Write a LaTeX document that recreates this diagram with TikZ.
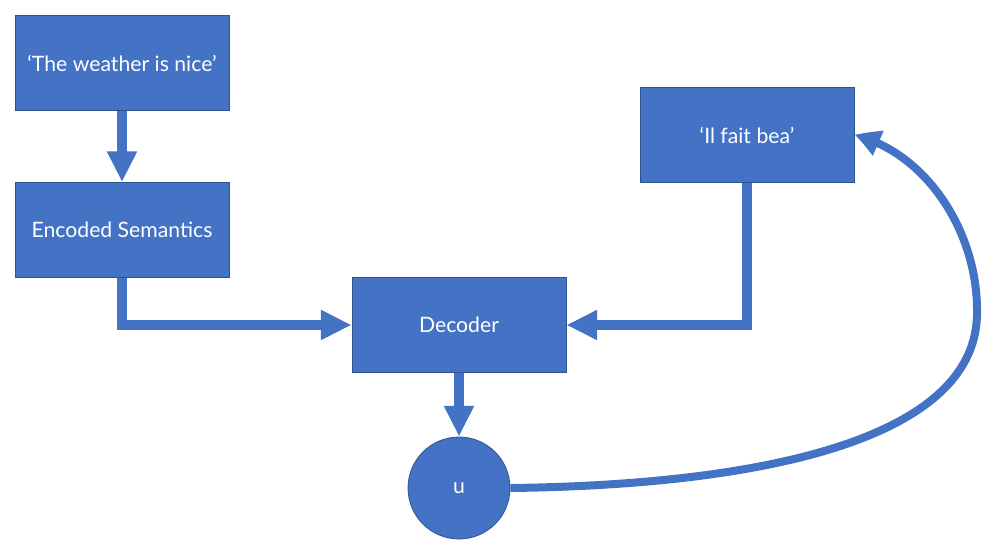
\documentclass[tikz,border=0pt]{standalone}
\usepackage{fontspec}
\setmainfont{Lato}
\usetikzlibrary{arrows.meta,bending}
\definecolor{fillb}{HTML}{4472C4}
\definecolor{edgeb}{HTML}{2F528F}
\begin{document}
\begin{tikzpicture}[x=0.75pt,y=-0.75pt,
  box/.style={draw=edgeb, line width=0.6pt, fill=fillb, text=white,
    minimum width=160.5pt, minimum height=71.25pt, inner sep=0pt,
    font=\fontsize{15.9}{19}\selectfont},
  roundbox/.style={circle, draw=edgeb, line width=0.6pt, fill=fillb, text=white,
    minimum size=76.5pt, inner sep=0pt, font=\fontsize{15.9}{19}\selectfont},
  conn/.style={draw=fillb, line width=7.5pt,
    -{Triangle[length=23pt,width=21pt]}},
  curvearrow/.style={draw=fillb, line width=6pt,
    -{Triangle[length=19pt,width=19pt,bend]}}]
\useasboundingbox (0,0) rectangle (996,551);
\node[box] (A) at (122,63) {‘The weather is nice’};
\node[box] (B) at (122,230) {Encoded Semantics};
\node[box] (D) at (459,325) {Decoder};
\node[box] (C) at (747,135) {‘Il fait bea’};
\node[roundbox] (U) at (459,488) {u};
\coordinate (bend) at (977,310);
\draw[conn] (A.south) -- (B.north);
\draw[conn] (B.south) |- (D.west);
\draw[conn] (C.south) |- (D.east);
\draw[conn] (D.south) -- (U.north);
\draw[curvearrow] (U.east) .. controls (760,485) and (980,440) .. (bend)
  .. controls (977,230) and (925,152) .. (C.east);
\end{tikzpicture}
\end{document}
